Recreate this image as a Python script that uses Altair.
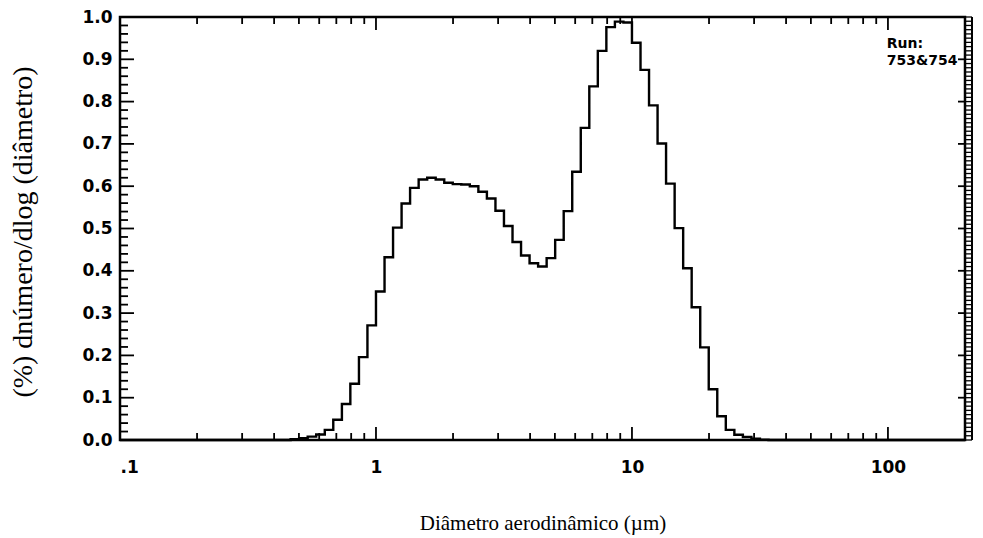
import altair as alt
import pandas as pd

# ---- data (APS-style size channels) ----
bin_edges = [0.464, 0.501, 0.541, 0.584, 0.631, 0.681, 0.736, 0.794, 0.858, 0.926,
             1.000, 1.080, 1.166, 1.259, 1.359, 1.468, 1.585, 1.711, 1.848, 1.995,
             2.154, 2.326, 2.512, 2.712, 2.929, 3.162, 3.415, 3.687, 3.981, 4.299,
             4.642, 5.012, 5.412, 5.843, 6.310, 6.813, 7.356, 7.943, 8.577, 9.261,
             10.00, 10.80, 11.66, 12.59, 13.59, 14.68, 15.85, 17.11, 18.48, 19.95,
             21.54, 23.26, 25.12, 27.12, 29.29, 31.62, 34.15]
bin_values = [0.002, 0.004, 0.008, 0.013, 0.024, 0.048, 0.085, 0.133, 0.196, 0.271,
              0.351, 0.432, 0.502, 0.559, 0.596, 0.616, 0.620, 0.616, 0.608, 0.605,
              0.604, 0.600, 0.587, 0.571, 0.542, 0.506, 0.468, 0.436, 0.418, 0.410,
              0.430, 0.473, 0.541, 0.634, 0.738, 0.836, 0.920, 0.976, 0.989, 0.987,
              0.939, 0.875, 0.791, 0.701, 0.606, 0.501, 0.406, 0.314, 0.219, 0.120,
              0.056, 0.024, 0.0125, 0.007, 0.003, 0.001]
x_domain = [0.1, 200]

x_label_values = [0.1, 1, 10, 100]
x_major_ticks = [1, 10, 100]
x_minor_ticks = [0.2, 0.3, 0.4, 0.5, 0.6, 0.7, 0.8, 0.9,
                 2, 3, 4, 5, 6, 7, 8, 9,
                 20, 30, 40, 50, 60, 70, 80, 90]
y_major_ticks = [0.0, 0.1, 0.2, 0.3, 0.4, 0.5, 0.6, 0.7, 0.8, 0.9, 1.0]
y_minor_ticks = [round(i * 0.02, 2) for i in range(51) if i % 5]
y_rungs = [round(i * 0.01, 2) for i in range(101)]
run_lines = ["Run:", "753&754"]

x_title = "Diâmetro aerodinâmico (µm)"
y_title = "(%) dnúmero/dlog (diâmetro)"

W, H = 845, 423

line_df = pd.DataFrame({
    "d": [x_domain[0]] + bin_edges + [x_domain[1]],
    "v": [0.0] + bin_values + [0.0, 0.0],
})

xscale = alt.Scale(type="log", domain=x_domain, nice=False)
yscale = alt.Scale(domain=[0, 1], nice=False, zero=True)

label_font = "DejaVu Sans"

x_axis = alt.Axis(
    values=x_label_values, ticks=False, tickSize=0, domain=False, grid=False,
    labelExpr="datum.value < 0.5 ? '.1' : format(datum.value, 'd')",
    labelFont=label_font, labelFontWeight="bold", labelFontSize=17,
    labelColor="black", labelPadding=19,
    title=x_title, titleFont="Liberation Serif", titleFontWeight="normal",
    titleFontSize=21, titleColor="black", titleX=422.5, titleY=89,
    titleAlign="center", titleBaseline="alphabetic")
y_axis = alt.Axis(
    values=y_major_ticks, format=".1f", ticks=False, tickSize=0, domain=False,
    grid=False, labelFlush=False, labelFont=label_font, labelFontWeight="bold",
    labelFontSize=17, labelColor="black", labelPadding=8, labelBaseline="middle",
    title=y_title, titleFont="Liberation Serif", titleFontWeight="normal",
    titleFontSize=28, titleColor="black", titleAngle=270, titleX=-89,
    titleY=214.5, titleAlign="center", titleBaseline="alphabetic")

line = alt.Chart(line_df).mark_line(
    interpolate="step-after", color="black", strokeWidth=2.4
).encode(
    x=alt.X("d:Q", scale=xscale, axis=x_axis),
    y=alt.Y("v:Q", scale=yscale, axis=y_axis),
)


def yrule(values, x1, x2, sw=1.8):
    df = pd.DataFrame({"v": values})
    return alt.Chart(df).mark_rule(color="black", strokeWidth=sw).encode(
        y=alt.Y("v:Q", scale=yscale, axis=y_axis),
        x=alt.value(x1), x2=alt.value(x2))


def xrule(values, y1, y2, sw=1.8):
    df = pd.DataFrame({"d": values})
    return alt.Chart(df).mark_rule(color="black", strokeWidth=sw).encode(
        x=alt.X("d:Q", scale=xscale, axis=x_axis),
        y=alt.value(y1), y2=alt.value(y2))


left_major = yrule(y_major_ticks, 0, 14)
left_minor = yrule(y_minor_ticks, 0, 8)
right_major = yrule(y_major_ticks, W - 7, W)
right_rungs = yrule(y_rungs, W, W + 7, sw=1.3)
right_outer = alt.Chart(pd.DataFrame({"v": [0]})).mark_rule(
    color="black", strokeWidth=2).encode(
    x=alt.value(W + 7), y=alt.value(0), y2=alt.value(H))
bottom_major = xrule(x_major_ticks, H, H - 13)
bottom_minor = xrule(x_minor_ticks, H, H - 7)
top_major = xrule(x_major_ticks, 0, 13)
top_minor = xrule(x_minor_ticks, 0, 7)


def run_text(label, yv):
    df = pd.DataFrame({"t": [label]})
    return alt.Chart(df).mark_text(
        align="left", baseline="middle", font=label_font, fontWeight="bold",
        fontSize=14, color="black").encode(
        x=alt.X(datum=99, scale=xscale, axis=x_axis),
        y=alt.Y(datum=yv, scale=yscale, axis=y_axis),
        text="t:N")


run1 = run_text(run_lines[0], 0.936)
run2 = run_text(run_lines[1], 0.897)

chart = alt.layer(
    line, left_major, left_minor, right_major, right_rungs, right_outer,
    bottom_major, bottom_minor, top_major, top_minor, run1, run2
).properties(
    width=W, height=H,
    autosize=alt.AutoSizeParams(type="none"),
    padding={"left": 120, "top": 17, "right": 18, "bottom": 98},
    background="white",
).configure_view(
    stroke="black", strokeWidth=2.5
)

chart.save("out.html", embed_options={"renderer": "svg", "actions": False})
